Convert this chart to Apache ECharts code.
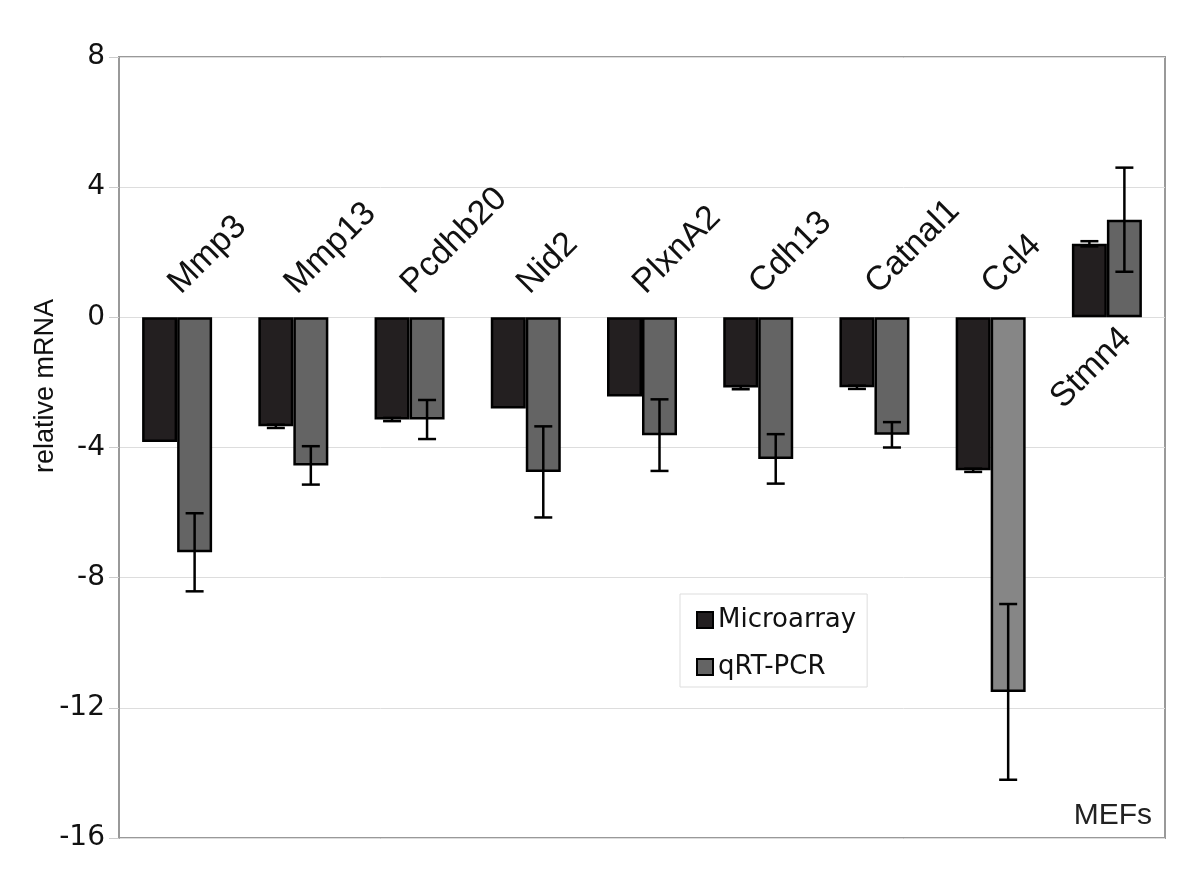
<!DOCTYPE html>
<html>
<head>
<meta charset="utf-8">
<script src="https://cdn.jsdelivr.net/npm/echarts@6/dist/echarts.min.js"></script>
<style>
  html, body { margin: 0; padding: 0; background: #fff; }
  #chart { width: 1200px; height: 882px; }
</style>
</head>
<body>
<div id="chart"></div>
<script>
const categories = ['Mmp3', 'Mmp13', 'Pcdhb20', 'Nid2', 'PlxnA2', 'Cdh13', 'Catnal1', 'Ccl4', 'Stmn4'];
const microarray = [-3.83, -3.35, -3.14, -2.80, -2.43, -2.16, -2.15, -4.70, 2.26];
const microarrayErr = [0, 0.05, 0.05, 0, 0, 0.05, 0.05, 0.05, 0.08];
const qrtpcr = [-7.22, -4.55, -3.14, -4.75, -3.62, -4.35, -3.61, -11.51, 3.0];
const qrtpcrErr = [1.2, 0.59, 0.6, 1.4, 1.1, 0.76, 0.39, 2.7, 1.6];
const yMin = -16, yMax = 8, yStep = 4;

const barW = 35;
const microColor = '#231f20';
const qrtColor = '#646464';
const qrtLight = '#868686';   // Ccl4 qRT bar is drawn lighter in the original

const chart = echarts.init(document.getElementById('chart'));

// error bars sit on top of the bar they belong to (side -1 = left bar, +1 = right bar)
function errorSeries(name, values, errs, side) {
  return {
    type: 'custom',
    name: name,
    silent: true,
    z: 10,
    data: values.map((v, i) => [i, v, errs[i]]),
    encode: { x: 0, y: 1 },
    renderItem: function (params, api) {
      const i = api.value(0), v = api.value(1), e = api.value(2);
      if (!e) return null;
      const top = api.coord([i, v + e]);
      const bot = api.coord([i, v - e]);
      const x = top[0] + side * barW / 2;
      const cap = 9;
      const st = { stroke: '#000', lineWidth: 2.5 };
      return {
        type: 'group',
        children: [
          { type: 'line', shape: { x1: x, y1: top[1], x2: x, y2: bot[1] }, style: st },
          { type: 'line', shape: { x1: x - cap, y1: top[1], x2: x + cap, y2: top[1] }, style: st },
          { type: 'line', shape: { x1: x - cap, y1: bot[1], x2: x + cap, y2: bot[1] }, style: st }
        ]
      };
    }
  };
}

const option = {
  animation: false,
  grid: {
    left: 119, right: 35, top: 57, bottom: 44,
    show: true, borderColor: '#999', borderWidth: 2, containLabel: false
  },
  title: {
    text: 'MEFs',
    right: 43, top: 796,
    textStyle: { fontFamily: 'Liberation Sans', fontSize: 30, fontWeight: 'normal', color: '#222' }
  },
  legend: {
    data: ['Microarray', 'qRT-PCR'],
    orient: 'vertical',
    left: 680, top: 594,
    itemWidth: 16, itemHeight: 16,
    itemGap: 21,
    padding: [13, 11, 7, 16],
    borderColor: '#ddd', borderWidth: 1,
    icon: 'rect',
    textStyle: { fontFamily: 'DejaVu Sans', fontSize: 26, color: '#111' }
  },
  graphic: [
    {
      type: 'text', x: 46, y: 386, rotation: Math.PI / 2,
      style: {
        text: 'relative mRNA', fontFamily: 'Liberation Sans', fontSize: 27,
        fill: '#111', align: 'center', verticalAlign: 'middle'
      }
    }
  ],
  xAxis: {
    type: 'category',
    data: categories,
    axisLine: { show: false },
    axisTick: { show: false },
    axisLabel: { show: false },
    splitLine: { show: false }
  },
  yAxis: {
    type: 'value',
    min: yMin, max: yMax, interval: yStep,
    axisLine: { show: true, lineStyle: { color: '#999', width: 2 } },
    axisTick: { show: true, length: 10, lineStyle: { color: '#ccc' } },
    axisLabel: { fontFamily: 'DejaVu Sans', fontSize: 28, color: '#111', margin: 14 },
    splitLine: { show: true, lineStyle: { color: '#ddd', width: 1 } }
  },
  series: [
    {
      name: 'Microarray',
      type: 'bar',
      data: microarray,
      barWidth: barW,
      barGap: '0%',
      itemStyle: { color: microColor, borderColor: '#000', borderWidth: 2.5 }
    },
    {
      name: 'qRT-PCR',
      type: 'bar',
      data: qrtpcr.map((v, i) => categories[i] === 'Ccl4'
        ? { value: v, itemStyle: { color: qrtLight } }
        : v),
      barWidth: barW,
      barGap: '0%',
      itemStyle: { color: qrtColor, borderColor: '#000', borderWidth: 2.5 }
    },
    errorSeries('microErr', microarray, microarrayErr, -1),
    errorSeries('qrtErr', qrtpcr, qrtpcrErr, 1),
    {
      // gene names at 45 degrees, above the zero line (below it for up-regulated genes)
      type: 'custom',
      name: 'genes',
      silent: true,
      z: 12,
      data: categories.map((c, i) => [i, 0, microarray[i] < 0 ? -1 : 1]),
      encode: { x: 0, y: 1 },
      renderItem: function (params, api) {
        const i = api.value(0);
        const down = api.value(2) < 0;
        const p = api.coord([i, 0]);
        return {
          type: 'text',
          x: down ? p[0] + 9 : p[0] + 7,
          y: down ? p[1] - 17 : p[1] + 4,
          rotation: Math.PI / 4,
          style: {
            text: categories[i],
            fontFamily: 'Liberation Sans',
            fontSize: 34,
            fill: '#111',
            align: down ? 'left' : 'right',
            verticalAlign: down ? 'bottom' : 'top'
          }
        };
      }
    }
  ]
};

chart.setOption(option);
</script>
</body>
</html>
